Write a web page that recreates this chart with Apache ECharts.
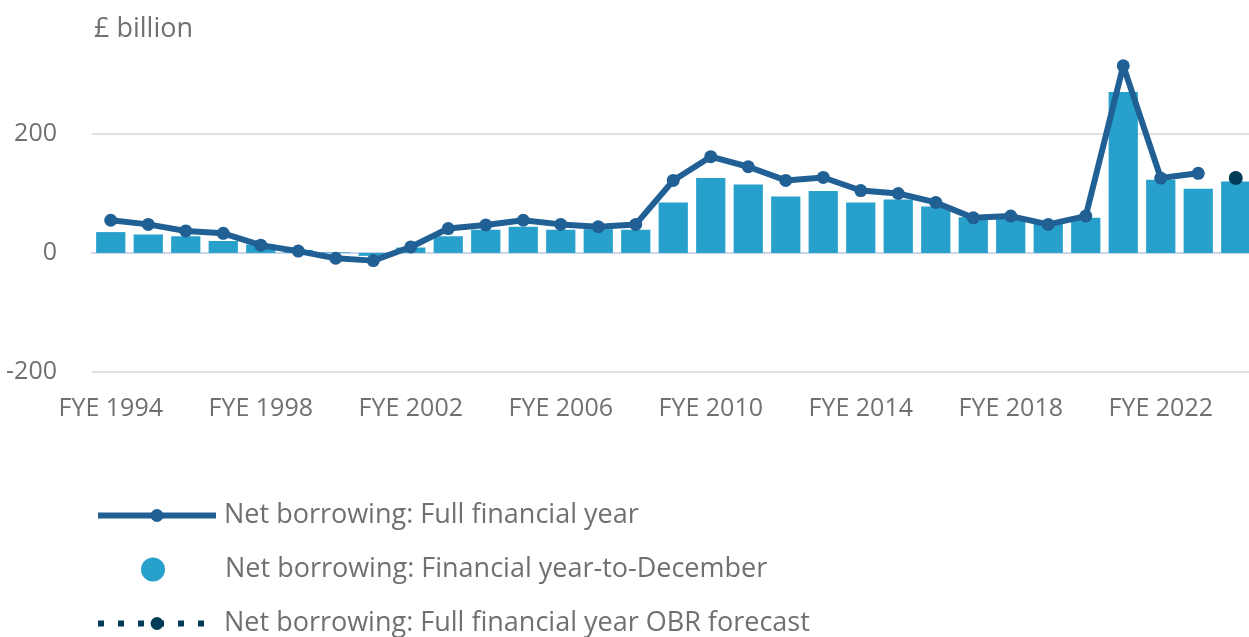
<!DOCTYPE html>
<html>
<head>
<meta charset="utf-8">
<script src="https://cdn.jsdelivr.net/npm/echarts@6/dist/echarts.min.js"></script>
<style>
  html, body { margin: 0; padding: 0; background: #fff; }
  #chart { width: 1249px; height: 637px; }
</style>
</head>
<body>
<div id="chart"></div>
<script>
// FYE 1994 .. FYE 2024
const years = [];
for (let y = 1994; y <= 2024; y++) years.push('FYE ' + y);

// full financial year net borrowing (last year is forecast, kept separate)
const fullYear = [55, 48, 37, 33, 13, 3, -9, -13, 10, 41, 47, 55, 48, 44, 48, 122, 162, 145, 122, 127,
  105, 100, 85, 59, 62, 48, 62, 315, 126, 134, null];

// financial year-to-December
const yearToDec = [35, 31, 28, 20, 14, 5, 1, -5, 9, 28, 39, 44, 39, 40, 39, 85, 126, 115, 95, 104,
  85, 90, 78, 60, 58, 52, 59, 271, 123, 108, 120];

// OBR forecast for FYE 2024
const obrForecast = [null, null, null, null, null, null, null, null, null, null, null, null, null, null, null, null,
  null, null, null, null, null, null, null, null, null, null, null, null, null, null, 126];

const txtColor = '#707070';
const font = 'Open Sans';
const lineName = 'Net borrowing: Full financial year';
const barName = 'Net borrowing: Financial year-to-December';
const obrName = 'Net borrowing: Full financial year OBR forecast';

const chart = echarts.init(document.getElementById('chart'));

const legendText = { color: txtColor, fontSize: 27, fontFamily: font };

const option = {
    animation: false,
    textStyle: { fontFamily: font },
    title: {
        text: '£ billion',
        left: 89,
        top: 11,
        textStyle: { color: txtColor, fontSize: 27, fontWeight: 'normal', fontFamily: font }
    },
    grid: {
        left: 92,
        top: 15.3,
        width: 1162.5,
        height: 356.4,
        containLabel: false,
        outerBoundsMode: 'none'
    },
    legend: [
        {
            data: [{ name: lineName, lineStyle: { width: 6, color: '#206095' } }],
            left: 90, top: 497,
            itemWidth: 118, itemHeight: 16,
            textStyle: Object.assign({ padding: [0, 0, 0, 3] }, legendText)
        },
        {
            data: [{ name: barName, icon: 'circle' }],
            left: 136, top: 551,
            itemWidth: 24, itemHeight: 24,
            textStyle: Object.assign({ padding: [0, 0, 0, 55] }, legendText)
        },
        {
            data: [{ name: obrName, lineStyle: { width: 6, color: '#003c57', type: [6, 14] } }],
            left: 90, top: 605,
            itemWidth: 118, itemHeight: 16,
            textStyle: Object.assign({ padding: [0, 0, 0, 3] }, legendText)
        }
    ],
    xAxis: {
        type: 'category',
        data: years,
        axisLine: { lineStyle: { color: '#ccd6eb', width: 2 } },
        axisTick: { alignWithLabel: true, interval: 3, length: 21, lineStyle: { color: '#ccd6eb', width: 2 } },
        axisLabel: { interval: 3, color: txtColor, fontSize: 25, margin: 25, fontFamily: font }
    },
    yAxis: {
        type: 'value',
        min: -200,
        max: 400,
        interval: 200,
        axisLine: { show: false },
        axisTick: { show: false },
        axisLabel: { color: txtColor, fontSize: 25, margin: 35, showMaxLabel: false, fontFamily: font },
        splitLine: { lineStyle: { color: ['#e0e0e0', '#e0e0e0', '#e0e0e0', 'rgba(0,0,0,0)'], width: 2 } }
    },
    series: [
        {
            name: barName,
            type: 'bar',
            data: yearToDec,
            barCategoryGap: '22%',
            itemStyle: { color: '#27a0cc' },
            z: 1
        },
        {
            name: lineName,
            type: 'line',
            data: fullYear,
            symbol: 'circle',
            symbolSize: 13,
            itemStyle: { color: '#206095' },
            lineStyle: { color: '#206095', width: 6 },
            z: 3
        },
        {
            name: obrName,
            type: 'line',
            data: obrForecast,
            symbol: 'circle',
            symbolSize: 14,
            itemStyle: { color: '#003c57' },
            lineStyle: { color: '#003c57', width: 6, type: [6, 14] },
            z: 4
        }
    ]
};

chart.setOption(option);
</script>
</body>
</html>
